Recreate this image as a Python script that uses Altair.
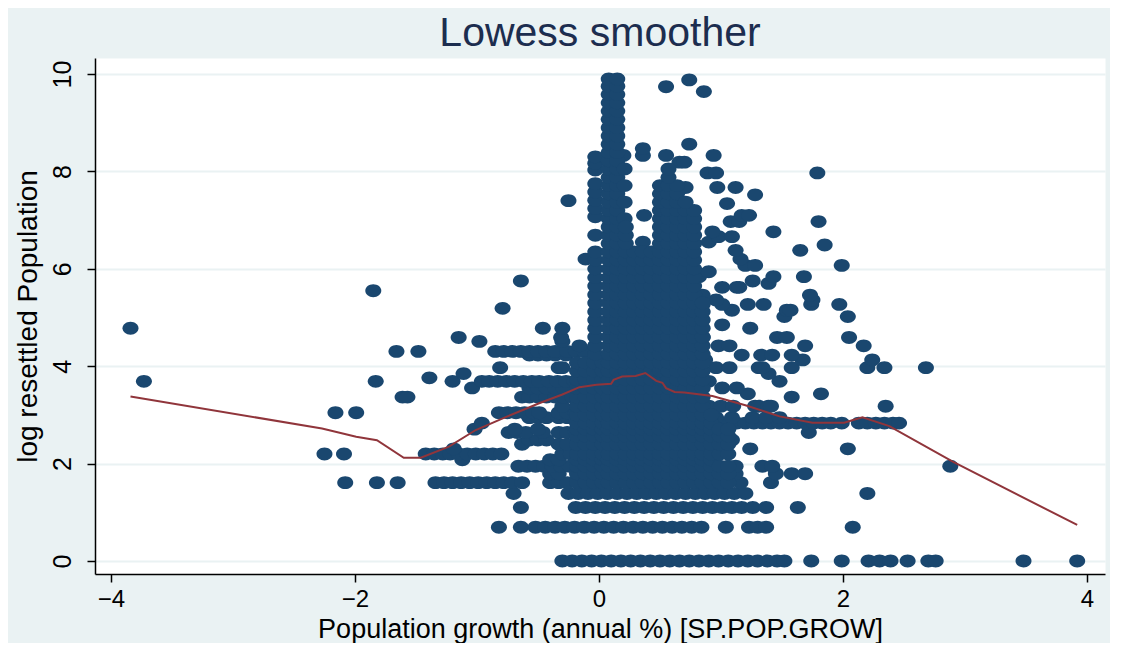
import altair as alt
import pandas as pd

# ---- scatter data ----
# rows of points sharing (roughly) one y level: (y, [x values])
rows = [
    (0.0, [-0.30, -0.22, -0.14, -0.06, 0.02, 0.10, 0.18, 0.26, 0.34, 0.42, 0.50, 0.58, 0.66, 0.74,
           0.82, 0.90, 0.98, 1.06, 1.14, 1.22, 1.30, 1.38, 1.46, 1.52, 1.74, 1.99, 2.21, 2.30, 2.39,
           2.53, 2.70, 2.76, 3.48, 3.92]),
    (0.693, [-0.82, -0.64, -0.52, -0.44, -0.36, -0.28, -0.20, -0.12, -0.04, 0.04, 0.12, 0.20, 0.28,
             0.36, 0.44, 0.52, 0.60, 0.68, 0.76, 0.84, 1.04, 1.23, 1.30, 1.37, 2.08]),
    (1.099, [-0.64, -0.19, -0.11, -0.03, 0.05, 0.13, 0.21, 0.29, 0.37, 0.45, 0.53, 0.61, 0.69, 0.77,
             0.85, 0.93, 1.01, 1.09, 1.17, 1.26, 1.37, 1.63]),
    (1.386, [-0.70, -0.25, -0.17, -0.09, -0.01, 0.07, 0.15, 0.23, 0.31, 0.39, 0.47, 0.55, 0.63, 0.71,
             0.79, 0.87, 0.95, 1.03, 1.11, 1.20, 2.20]),
    (1.609, [-2.08, -1.82, -1.65, -1.34, -1.27, -1.20, -1.13, -1.06, -0.99, -0.92, -0.85, -0.78, -0.71,
             -0.63, -0.40, -0.33, -0.26, 1.16, 1.41]),
    (1.792, [-0.40, -0.33, 1.12, 1.45, 1.58, 1.69]),
    (1.946, [-0.66, -0.59, -0.52, -0.45, -0.38, -0.31, -0.24, 1.12, 1.34, 1.42, 2.88]),
    (2.079, [-1.12, -0.40, -0.33]),
    (2.197, [-2.25, -2.09, -1.42, -1.35, -1.28, -1.22, -1.15, -1.08, -1.01, -0.94, -0.87, -0.80,
             -0.30, -0.23, 0.86]),
    (2.303, [-1.19, 1.24, 2.04]),
    (2.398, [-0.63, -0.33, -0.26, 0.87]),
    (2.485, [-0.57, -0.50, -0.43, 1.09]),
    (2.639, [-0.74, -0.67, -0.60, -0.46, -0.33, -0.26, -0.19, 0.96, 1.72]),
    (2.708, [-1.02, -0.69, -0.50]),
    (2.833, [-0.96, 0.92, 0.99, 1.06, 1.13, 1.20, 1.27, 1.34, 1.41, 1.48, 1.55, 1.62, 1.69, 1.76, 1.83,
             1.90, 1.99, 2.13, 2.20, 2.27, 2.34, 2.41, 2.46]),
    (2.944, [-0.57, -0.50, -0.43, -0.33, -0.26, -0.19, -0.12, 0.96, 1.09, 1.26, 1.37, 1.48]),
    (3.045, [-2.16, -1.99, -0.82, -0.75, -0.68, -0.61, -0.54, -0.49, -0.33, -0.26, -0.19]),
    (3.178, [-0.30, 0.90, 1.00, 1.10, 1.28, 1.31, 1.39, 1.41, 2.35]),
    (3.367, [-1.61, -1.57, -0.63, -0.57, -0.50, -0.43, -0.36, -0.29, -0.22, -0.15, 1.58]),
    (3.434, [1.22, 1.82]),
    (3.555, [-1.04, -0.57, -0.50, -0.43, -0.36, -0.29, 1.01, 1.13]),
    (3.689, [-3.73, -1.83, -1.20, -0.96, -0.90, -0.83, -0.76, -0.69, -0.62, -0.55, -0.49, -0.41, -0.34,
             -0.27, -0.20, 0.79, 0.90, 1.48]),
    (3.761, [-1.39]),
    (3.85, [-1.11, 1.39]),
    (3.97, [-0.81, -0.33, -0.30, -0.14, 0.96, 1.07, 1.31, 1.34, 1.58, 2.20, 2.34, 2.68]),
    (4.13, [0.87, 1.67, 2.24]),
    (4.23, [-0.57, -0.50, -0.43, -0.36, -0.27, 1.17, 1.33, 1.42, 1.58]),
    (4.304, [-1.66, -1.48, -0.85, -0.78, -0.71, -0.64, -0.57, -0.50, -0.43, -0.36, -0.26, -0.19, -0.12]),
    (4.42, [-0.16, -0.03, 0.82, 0.98, 1.07, 1.69, 2.17]),
    (4.51, [-0.98, -0.30]),
    (4.59, [-1.15, -0.31, 0.85, 1.46, 1.54, 2.05]),
    (4.78, [-3.84, -0.46, -0.30, 1.24]),
    (4.85, [1.01]),
    (5.02, [1.52, 2.04]),
    (5.15, [1.09, 1.54, 1.57]),
    (5.19, [-0.79]),
    (5.27, [0.85, 1.01, 1.22, 1.35, 1.74, 1.97]),
    (5.36, [0.96, 1.75]),
    (5.46, [0.85, 1.73]),
    (5.55, [-1.85]),
    (5.62, [1.01, 1.13, 1.15]),
    (5.70, [1.39]),
    (5.75, [-0.64, 1.26]),
    (5.84, [0.82, 1.43, 1.68]),
    (5.94, [0.90]),
    (6.07, [1.20, 1.28, 1.99]),
    (6.20, [-0.11, 1.16]),
    (6.38, [1.12, 1.65]),
    (6.49, [1.85]),
    (6.55, [0.36, 0.90]),
    (6.66, [0.98, 1.09]),
    (6.76, [0.93, 1.43]),
    (6.97, [1.08, 1.15, 1.80]),
    (7.10, [0.37, 0.76, 1.17, 1.23]),
    (7.34, [1.05]),
    (7.40, [-0.25]),
    (7.52, [1.28]),
    (7.67, [0.71, 0.97, 1.12]),
    (7.97, [0.89, 0.96, 1.79]),
    (8.19, [0.66, 0.70]),
    (8.33, [0.20, 0.36, 0.55, 0.94]),
    (8.47, [0.36]),
    (8.56, [0.74]),
    (9.64, [0.86]),
    (9.74, [0.55]),
    (9.88, [0.74]),
]

# dense parts of the cloud: (x columns, y levels) read as filled regions
levels_low = [1.609, 1.792, 1.946, 2.079, 2.197, 2.398, 2.565, 2.708, 2.833, 3.0, 3.18, 3.37,
              3.55, 3.72, 3.9, 4.07]
levels_mid = [4.25, 4.42, 4.6, 4.78, 4.95, 5.12, 5.3, 5.47, 5.65, 5.82, 6.0, 6.18, 6.35]
levels_top = [6.52, 6.69, 6.86, 7.03, 7.2]
levels_col = [7.37, 7.54, 7.71, 7.88, 8.05, 8.22, 8.39, 8.56, 8.73, 8.9, 9.07, 9.24, 9.41, 9.58,
              9.75, 9.9]
col_b_y = [4.25, 4.42, 4.6, 4.78, 4.95, 5.12, 5.3, 5.47, 5.65, 5.82, 6.0, 6.18, 6.35, 6.69, 7.07,
           7.24, 7.41, 7.58, 7.75, 8.03, 8.17, 8.30]

blocks = [
    ([-0.18, -0.11, -0.04, 0.03], levels_low),
    ([-0.03], col_b_y),
    ([0.08, 0.15], levels_low + levels_mid + levels_top + levels_col),
    ([0.21], [7.03, 7.37, 7.71, 8.05]),
    ([0.22, 0.29, 0.36, 0.43], levels_low + levels_mid),
    ([0.22], levels_top[:3]),
    ([0.50, 0.57, 0.64, 0.71, 0.78], levels_low + levels_mid + levels_top),
    ([0.50, 0.57, 0.64], [7.37, 7.54, 7.71]),
    ([0.57], [7.88, 8.05]),
    ([0.71], [7.37]),
    ([0.85], levels_low + [4.25, 4.42, 4.6, 4.78, 4.95, 5.12, 5.3]),
    ([0.92], levels_low[:10]),
    ([0.99, 1.06], [1.609, 1.792, 1.946, 2.197, 2.398, 2.565, 2.708]),
]

# lowess curve
lowess_x = [-3.84, -2.27, -1.99, -1.82, -1.60, -1.46, -1.23, -1.01, -0.76, -0.49, -0.30, -0.16,
            -0.02, 0.10, 0.12, 0.19, 0.30, 0.38, 0.47, 0.52, 0.55, 0.62, 0.70, 0.93, 1.20, 1.48,
            1.75, 2.01, 2.09, 2.16, 2.38, 2.90, 3.92]
lowess_y = [3.38, 2.72, 2.55, 2.48, 2.12, 2.12, 2.35, 2.69, 2.96, 3.24, 3.42, 3.57,
            3.62, 3.64, 3.72, 3.79, 3.80, 3.86, 3.70, 3.66, 3.55, 3.47, 3.46, 3.39, 3.20, 2.97,
            2.84, 2.84, 2.90, 2.95, 2.77, 2.04, 0.74]

x_ticks = [-4, -2, 0, 2, 4]
y_ticks = [0, 2, 4, 6, 8, 10]

recs = []
for yv, xs in rows:
    for xv in xs:
        recs.append({"x": xv, "y": yv})
for xs, ys in blocks:
    for xv in xs:
        for yv in ys:
            recs.append({"x": xv, "y": yv})
pts = pd.DataFrame(recs)
line = pd.DataFrame({"x": lowess_x, "y": lowess_y, "i": list(range(len(lowess_x)))})

FONT = "Liberation Sans"
xscale = alt.Scale(domain=[-4.131, 4.148], nice=False, zero=False)
yscale = alt.Scale(domain=[-0.267, 10.33], nice=False, zero=False)
ellipse = "M -1 0 A 1 0.8 0 1 0 1 0 A 1 0.8 0 1 0 -1 0 Z"

x_axis = alt.Axis(values=x_ticks, format="d", title="Population growth (annual %) [SP.POP.GROW]",
                  grid=False, domainColor="black", domainWidth=1.5, tickColor="black",
                  tickWidth=1.5, tickSize=8, labelFont=FONT, labelFontSize=24, labelColor="black",
                  labelPadding=5, titleFont=FONT, titleFontSize=27, titleFontWeight="normal",
                  titleColor="black", titleBaseline="alphabetic", titleY=63)
y_axis = alt.Axis(values=y_ticks, format="d", title="log resettled Population", grid=True,
                  gridColor="#eaf2f3", gridWidth=2, domainColor="black", domainWidth=1.5,
                  tickColor="black", tickWidth=1.5, tickSize=8, labelFont=FONT, labelFontSize=25,
                  labelColor="black", labelAngle=270, labelAlign="center", labelBaseline="bottom",
                  labelPadding=12, titleFont=FONT, titleFontSize=28, titleFontWeight="normal",
                  titleColor="black", titlePadding=8)

points = alt.Chart(pts).mark_point(shape=ellipse, filled=True, size=256, color="#1a476f",
                                   opacity=1, strokeWidth=0).encode(
    x=alt.X("x:Q", scale=xscale, axis=x_axis),
    y=alt.Y("y:Q", scale=yscale, axis=y_axis),
)
curve = alt.Chart(line).mark_line(color="#90353b", strokeWidth=2).encode(
    x=alt.X("x:Q", scale=xscale),
    y=alt.Y("y:Q", scale=yscale),
    order="i:Q",
)

chart = alt.layer(points, curve).properties(
    width=1010,
    height=516,
    title=alt.Title("Lowess smoother", fontSize=41, font=FONT, fontWeight="normal",
                    color="#1c2d4f", offset=3),
    background="#eaf2f3",
    padding={"left": 87, "top": 50, "right": 5, "bottom": 69},
    autosize=alt.AutoSizeParams(type="none"),
).configure_view(fill="white", stroke="transparent")

chart.save("out.html", embed_options={"renderer": "svg", "actions": False})
